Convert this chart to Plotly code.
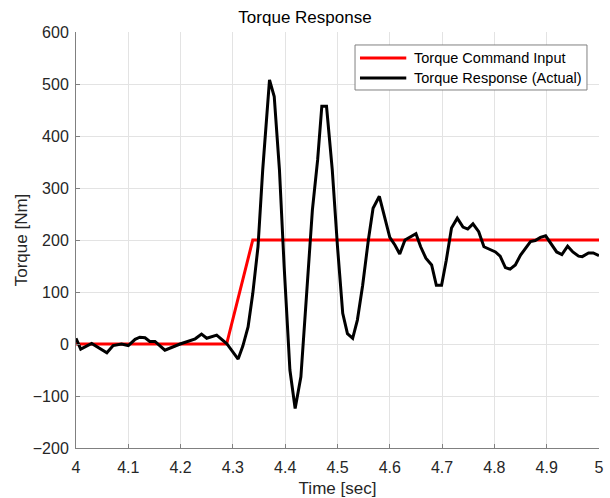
import plotly.graph_objects as go

# Torque command input (red)
cmd_t = [4.0, 4.288, 4.338, 5.0]
cmd_v = [0, 0, 200, 200]

# Torque response (black)
resp_t = [4.000, 4.009, 4.030, 4.059, 4.071, 4.087, 4.100, 4.113, 4.122, 4.132,
          4.141, 4.151, 4.170, 4.199, 4.228, 4.240, 4.250, 4.269, 4.288, 4.310,
          4.319, 4.329, 4.338, 4.348, 4.357, 4.370, 4.379, 4.389, 4.398, 4.409,
          4.419, 4.430, 4.441, 4.452, 4.462, 4.470, 4.479, 4.490, 4.500, 4.510,
          4.519, 4.529, 4.538, 4.548, 4.559, 4.568, 4.580, 4.589, 4.600, 4.610,
          4.619, 4.629, 4.638, 4.650, 4.659, 4.669, 4.680, 4.689, 4.699, 4.708,
          4.718, 4.729, 4.740, 4.749, 4.759, 4.770, 4.780, 4.791, 4.802, 4.811,
          4.821, 4.830, 4.840, 4.850, 4.859, 4.869, 4.878, 4.888, 4.898, 4.910,
          4.919, 4.929, 4.940, 4.950, 4.961, 4.968, 4.980, 4.989, 5.000]
resp_v = [11, -10, 1, -17, -3, 0, -3, 9, 13, 12,
          5, 5, -12, 0, 10, 19, 11, 17, 1, -29,
          -4, 33, 97, 187, 335, 508, 476, 335, 149, -50,
          -124, -63, 97, 258, 354, 457, 457, 335, 187, 59,
          20, 11, 46, 112, 200, 261, 284, 248, 205, 190,
          173, 200, 205, 212, 187, 165, 152, 113, 113, 161,
          223, 242, 225, 221, 231, 216, 187, 182, 177, 169,
          147, 144, 152, 171, 184, 197, 199, 205, 208, 190,
          177, 172, 188, 177, 169, 168, 175, 175, 170]

x_ticks = [4, 4.1, 4.2, 4.3, 4.4, 4.5, 4.6, 4.7, 4.8, 4.9, 5]
x_tick_labels = ["4", "4.1", "4.2", "4.3", "4.4", "4.5", "4.6", "4.7", "4.8", "4.9", "5"]
y_ticks = [-200, -100, 0, 100, 200, 300, 400, 500, 600]

series_names = ["Torque Command Input", "Torque Response (Actual)"]
series_colors = ["#ff0000", "#000000"]

FONT = "Liberation Sans, Arial, sans-serif"

fig = go.Figure()
fig.add_trace(go.Scatter(x=cmd_t, y=cmd_v, mode="lines", name=series_names[0],
                         line=dict(color=series_colors[0], width=3)))
fig.add_trace(go.Scatter(x=resp_t, y=resp_v, mode="lines", name=series_names[1],
                         line=dict(color=series_colors[1], width=3)))

# MATLAB-style legend box (drawn in paper coordinates)
L, R, T, B = 0.5335, 0.977, 0.9688, 0.8606
row_y = [0.9375, 0.8894]
shapes = [dict(type="rect", xref="paper", yref="paper", x0=L, x1=R, y0=B, y1=T,
               line=dict(color="#808080", width=1), fillcolor="white", layer="above")]
annotations = []
for name, col, ry in zip(series_names, series_colors, row_y):
    shapes.append(dict(type="line", xref="paper", yref="paper", x0=0.5430, x1=0.6315,
                       y0=ry, y1=ry, line=dict(color=col, width=3), layer="above"))
    annotations.append(dict(xref="paper", yref="paper", x=0.6425, y=ry, text=name,
                            showarrow=False, xanchor="left", yanchor="middle",
                            font=dict(family=FONT, size=14.5, color="#000000")))

fig.update_layout(
    width=610, height=498,
    margin=dict(l=76, r=11, t=32, b=50),
    paper_bgcolor="white", plot_bgcolor="white",
    font=dict(family=FONT, size=16, color="#262626"),
    title=dict(text="Torque Response", x=0.5, xanchor="center", y=0.965, yanchor="middle",
               font=dict(family=FONT, size=17, color="#000000")),
    showlegend=False,
    shapes=shapes,
    annotations=annotations,
)
fig.update_xaxes(range=[4, 5], tickvals=x_ticks, ticktext=x_tick_labels,
                 showgrid=True, gridcolor="#e3e3e3", gridwidth=1,
                 showline=True, linecolor="#808080", linewidth=1,
                 ticks="inside", ticklen=4, tickcolor="#808080",
                 zeroline=False, mirror=False, ticklabelstandoff=5, automargin=False,
                 tickfont=dict(size=16, color="#262626"),
                 title=dict(text="Time [sec]", font=dict(size=17, color="#262626"), standoff=6))
fig.update_yaxes(range=[-200, 600], tickvals=y_ticks,
                 showgrid=True, gridcolor="#e3e3e3", gridwidth=1,
                 showline=True, linecolor="#808080", linewidth=1,
                 ticks="inside", ticklen=4, tickcolor="#808080",
                 zeroline=False, mirror=False, ticklabelstandoff=3, automargin=False,
                 tickfont=dict(size=16, color="#262626"),
                 title=dict(text="Torque [Nm]", font=dict(size=17, color="#262626"), standoff=0))

fig.write_html("out.html")
